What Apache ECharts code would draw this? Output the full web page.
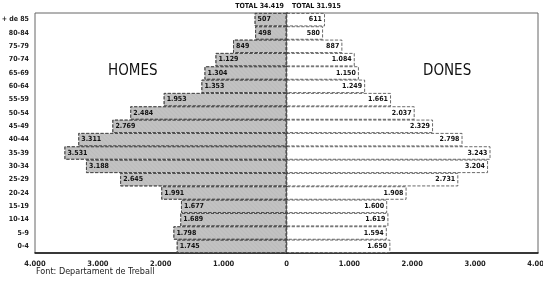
<!DOCTYPE html>
<html>
<head>
<meta charset="utf-8">
<script src="https://cdn.jsdelivr.net/npm/echarts@6/dist/echarts.min.js"></script>
<style>
    html, body { margin: 0; padding: 0; background: #fff; }
    #echarts { width: 543px; height: 281px; }
</style>
</head>
<body>
<div id="echarts"></div>
<script>
// grups d'edat (de dalt a baix)
var edats = ['+ de 85', '80-84', '75-79', '70-74', '65-69', '60-64', '55-59', '50-54', '45-49',
    '40-44', '35-39', '30-34', '25-29', '20-24', '15-19', '10-14', '5-9', '0-4'];
var homes = [507, 498, 849, 1129, 1304, 1353, 1953, 2484, 2769,
    3311, 3531, 3188, 2645, 1991, 1677, 1689, 1798, 1745];
var dones = [611, 580, 887, 1084, 1150, 1249, 1661, 2037, 2329,
    2798, 3243, 3204, 2731, 1908, 1600, 1619, 1594, 1650];
var totalHomes = '34.419';
var totalDones = '31.915';
var ticksX = [-4000, -3000, -2000, -1000, 0, 1000, 2000, 3000, 4000];

// format catala: 1.234
function fmt(v) {
    v = Math.abs(v);
    return String(v).replace(/\B(?=(\d{3})+(?!\d))/g, '.');
}

window.onload = function () {
    var font = 'DejaVu Sans Condensed';
    var option = {
        animation: false,
        textStyle: { fontFamily: font },
        grid: {
            left: 35,
            right: 5,
            top: 13,
            bottom: 28,
            outerBoundsMode: 'none',
            containLabel: false,
            show: true,
            borderColor: '#666',
            borderWidth: 1
        },
        xAxis: {
            type: 'value',
            min: ticksX[0],
            max: ticksX[ticksX.length - 1],
            interval: 1000,
            axisLine: { show: true, lineStyle: { color: '#111', width: 1.5 } },
            axisTick: { show: false },
            splitLine: { show: false },
            axisLabel: {
                fontSize: 7.5,
                fontWeight: 'bold',
                color: '#222',
                margin: 7,
                formatter: function (v) { return fmt(v); }
            }
        },
        yAxis: {
            type: 'category',
            data: edats,
            inverse: true,
            axisLine: { show: true, lineStyle: { color: '#111', width: 1.5 } },
            axisTick: { show: false },
            axisLabel: {
                fontSize: 7,
                fontWeight: 'bold',
                color: '#222',
                margin: 6
            }
        },
        series: [
            {
                name: 'Homes',
                type: 'bar',
                stack: 'pob',
                barCategoryGap: '0%',
                data: homes.map(function (v) { return -v; }),
                itemStyle: {
                    color: '#c2c2c2',
                    borderColor: '#444',
                    borderWidth: 0.8,
                    borderType: 'dashed',
                    decal: {
                        symbol: 'rect',
                        symbolSize: 0.5,
                        dashArrayX: [1, 0],
                        dashArrayY: [1, 2],
                        rotation: Math.PI / 4,
                        color: 'rgba(130,130,130,0.4)'
                    }
                },
                label: {
                    show: true,
                    position: 'insideLeft',
                    distance: 3,
                    fontSize: 7,
                    fontWeight: 'bold',
                    color: '#111',
                    formatter: function (p) { return fmt(p.value); }
                }
            },
            {
                name: 'Dones',
                type: 'bar',
                stack: 'pob',
                barCategoryGap: '0%',
                data: dones,
                itemStyle: {
                    color: '#fff',
                    borderColor: '#444',
                    borderWidth: 0.8,
                    borderType: 'dashed'
                },
                label: {
                    show: true,
                    position: 'insideRight',
                    distance: 3,
                    fontSize: 7,
                    fontWeight: 'bold',
                    color: '#111',
                    formatter: function (p) { return fmt(p.value); }
                }
            }
        ],
        graphic: [
            { type: 'text', right: 259, top: 3, style: { text: 'TOTAL ' + totalHomes, font: 'bold 7px ' + font, fill: '#111' } },
            { type: 'text', left: 292, top: 3, style: { text: 'TOTAL ' + totalDones, font: 'bold 7px ' + font, fill: '#111' } },
            { type: 'text', left: 108, top: 64, style: { text: 'HOMES', font: '15px ' + font, fill: '#111' } },
            { type: 'text', left: 423, top: 64, style: { text: 'DONES', font: '15px ' + font, fill: '#111' } },
            { type: 'text', left: 36, top: 267, style: { text: 'Font: Departament de Treball', font: '9px ' + font, fill: '#222' } }
        ]
    };
    var myChart = echarts.init(document.getElementById('echarts'));
    myChart.setOption(option);
};
</script>
</body>
</html>
